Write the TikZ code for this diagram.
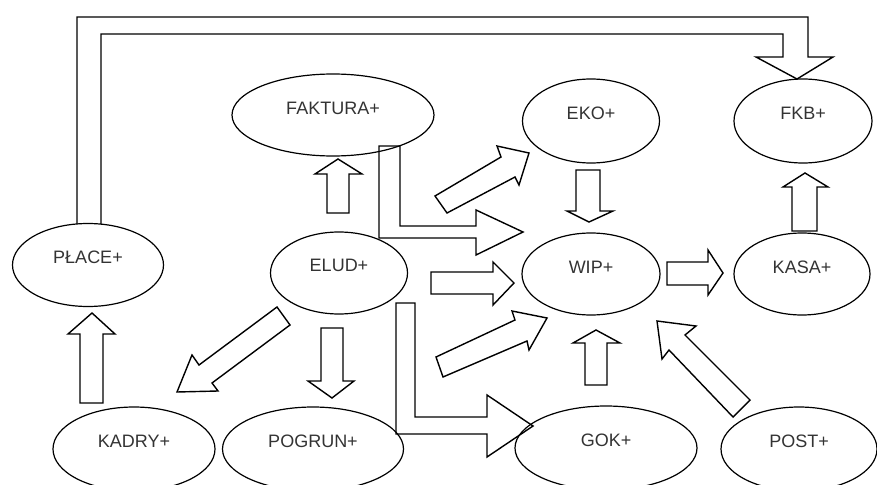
\documentclass[tikz,border=0pt]{standalone}
\usepackage{fontspec}
\setmainfont{Liberation Sans}
\usetikzlibrary{shapes.geometric}
\begin{document}
\begin{tikzpicture}[x=1pt,y=-1pt,
  el/.style={draw, ellipse, line width=1.2pt, inner sep=0pt},
  blk/.style={draw, line width=1.4pt, line join=miter},
  lab/.style={font=\fontsize{18}{18}\selectfont, text=black!80, inner sep=0pt}]
\useasboundingbox (0,0) rectangle (877,484);
% ellipses
\node[el, minimum width=202pt, minimum height=82pt, label={[lab,yshift=7pt]center:FAKTURA+}] (fak) at (333,115) {};
\node[el, minimum width=137pt, minimum height=84pt, label={[lab,yshift=8pt]center:EKO+}] (eko) at (591,121) {};
\node[el, minimum width=138pt, minimum height=84pt, label={[lab,yshift=8pt]center:FKB+}] (fkb) at (803,121) {};
\node[el, minimum width=151pt, minimum height=83pt, label={[lab,yshift=8pt]center:PŁACE+}] (place) at (88,265) {};
\node[el, minimum width=137pt, minimum height=82pt, label={[lab,yshift=8pt]center:ELUD+}] (elud) at (339,273) {};
\node[el, minimum width=138pt, minimum height=82pt, label={[lab,yshift=7pt]center:WIP+}] (wip) at (591,274) {};
\node[el, minimum width=136pt, minimum height=82pt, label={[lab,yshift=7pt]center:KASA+}] (kasa) at (802,274) {};
\node[el, minimum width=162pt, minimum height=84pt, label={[lab,yshift=8pt]center:KADRY+}] (kadry) at (134,449) {};
\node[el, minimum width=181pt, minimum height=84pt, label={[lab,yshift=8pt]center:POGRUN+}] (pogrun) at (313,449) {};
\node[el, minimum width=182pt, minimum height=84pt, label={[lab,yshift=8pt]center:GOK+}] (gok) at (606,448) {};
\node[el, minimum width=156pt, minimum height=84pt, label={[lab,yshift=8pt]center:POST+}] (post) at (799,449) {};
% block arrows
% PLACE -> FKB
\draw[blk] (77,224) -- (77,17) -- (808,17) -- (808,57) -- (833,57) -- (797,79)
  -- (756,57) -- (783,57) -- (783,34) -- (101,34) -- (101,224);
% FAKTURA -> WIP
\draw[blk] (379,146) -- (400,146) -- (400,226) -- (476,226) -- (476,210) -- (523,232)
  -- (476,255) -- (476,238) -- (379,238) -- cycle;
% ELUD -> EKO
\draw[blk] (435,196) -- (501,157) -- (497,146) -- (529,153) -- (519,185) -- (515,177)
  -- (447,213) -- cycle;
% ELUD -> WIP
\draw[blk] (431,272) -- (493,272) -- (493,262) -- (514,283) -- (493,305) -- (493,294)
  -- (431,294) -- cycle;
% lower diagonal -> WIP
\draw[blk] (436,357) -- (515,320) -- (512,311) -- (547,318) -- (529,350) -- (527,341)
  -- (443,377) -- cycle;
% ELUD -> GOK
\draw[blk] (396,303) -- (415,303) -- (415,417) -- (487,417) -- (487,395) -- (533,426)
  -- (487,457) -- (487,434) -- (396,434) -- cycle;
% ELUD -> FAKTURA
\draw[blk] (327,213) -- (327,174) -- (315,174) -- (338,159) -- (362,174) -- (349,174)
  -- (349,213) -- cycle;
% ELUD -> KADRY
\draw[blk] (277,307) -- (199,365) -- (192,355) -- (177,392) -- (218,391) -- (212,383)
  -- (290,325) -- cycle;
% ELUD -> POGRUN
\draw[blk] (321,328) -- (343,328) -- (343,381) -- (354,381) -- (332,398) -- (308,381)
  -- (321,381) -- cycle;
% KADRY -> PLACE
\draw[blk] (80,403) -- (80,334) -- (68,334) -- (92,313) -- (115,334) -- (103,334)
  -- (103,403) -- cycle;
% EKO -> WIP
\draw[blk] (576,170) -- (600,170) -- (600,211) -- (613,211) -- (589,222) -- (567,211)
  -- (576,211) -- cycle;
% KASA -> FKB
\draw[blk] (792,231) -- (792,187) -- (783,187) -- (805,173) -- (828,187) -- (817,187)
  -- (817,231) -- cycle;
% WIP -> KASA
\draw[blk] (667,262) -- (708,262) -- (708,250) -- (723,273) -- (708,295) -- (708,285)
  -- (667,285) -- cycle;
% GOK -> WIP
\draw[blk] (585,385) -- (585,343) -- (573,343) -- (596,330) -- (620,343) -- (607,343)
  -- (607,385) -- cycle;
% POST -> WIP
\draw[blk] (750,400) -- (685,335) -- (696,326) -- (657,321) -- (662,359) -- (669,350)
  -- (733,417) -- cycle;
\end{tikzpicture}
\end{document}
